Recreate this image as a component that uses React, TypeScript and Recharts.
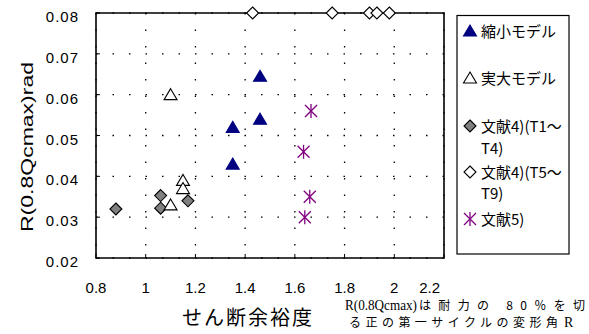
import React from 'react';
import { ScatterChart, Scatter, XAxis, YAxis, CartesianGrid, ReferenceArea } from 'recharts';

// ---- data ----
const xTicks = [0.8, 1, 1.2, 1.4, 1.6, 1.8, 2, 2.2];
const yTicks = [0.02, 0.03, 0.04, 0.05, 0.06, 0.07, 0.08];
const xTickLabels = ['0.8', '1', '1.2', '1.4', '1.6', '1.8', '2', '2.2'];
const yTickLabels = ['0.02', '0.03', '0.04', '0.05', '0.06', '0.07', '0.08'];

const shrinkModel = [
  { x: 1.35, y: 0.052 },
  { x: 1.35, y: 0.043 },
  { x: 1.46, y: 0.0645 },
  { x: 1.46, y: 0.054 },
];
const fullModel = [
  { x: 1.1, y: 0.06 },
  { x: 1.15, y: 0.039 },
  { x: 1.15, y: 0.037 },
  { x: 1.1, y: 0.033 },
];
const lit4a = [
  { x: 0.88, y: 0.032 },
  { x: 1.06, y: 0.0353 },
  { x: 1.06, y: 0.0322 },
  { x: 1.17, y: 0.034 },
];
const lit4b = [
  { x: 1.43, y: 0.08 },
  { x: 1.75, y: 0.08 },
  { x: 1.9, y: 0.08 },
  { x: 1.93, y: 0.08 },
  { x: 1.98, y: 0.08 },
];
const lit5 = [
  { x: 1.665, y: 0.056 },
  { x: 1.635, y: 0.046 },
  { x: 1.66, y: 0.035 },
  { x: 1.64, y: 0.03 },
];

const legendLines = [
  ['縮小モデル'],
  ['実大モデル'],
  ['文献4)(T1〜', 'T4)'],
  ['文献4)(T5〜', 'T9)'],
  ['文献5)'],
];
const yTitle = 'R(0.8Qcmax)rad';
const xTitle = 'せん断余裕度';
const noteSerif1 = 'R(0.8Qcmax)';
const noteCjk1 = 'は耐力の 80％を切';
const noteCjk2 = 'る正の第一サイクルの変形角';
const noteSerif2 = 'R';

// ---- styles ----
const NAVY = '#000080';
const PURPLE = '#800080';
const GRAY = '#808080';
const SANS = '"Liberation Sans", Arial, sans-serif';
const CJK = '"Noto Sans CJK JP", sans-serif';
const SERIF = '"Liberation Serif", "Times New Roman", serif';

const PLOT_LEFT = 96;
const PLOT_BOTTOM = 258;

const triangle = (cx: number, cy: number, fill: string, stroke: string) => (
  <polygon
    points={`${cx},${cy - 6} ${cx + 6.5},${cy + 5} ${cx - 6.5},${cy + 5}`}
    fill={fill}
    stroke={stroke}
    strokeWidth={1.1}
  />
);
const diamond = (cx: number, cy: number, fill: string) => (
  <polygon
    points={`${cx},${cy - 6} ${cx + 6},${cy} ${cx},${cy + 6} ${cx - 6},${cy}`}
    fill={fill}
    stroke="#000"
    strokeWidth={1.1}
  />
);
const asterisk = (cx: number, cy: number) => (
  <g stroke={PURPLE} strokeWidth={1.3}>
    <line x1={cx} y1={cy - 7} x2={cx} y2={cy + 7} />
    <line x1={cx - 6} y1={cy - 6} x2={cx + 6} y2={cy + 6} />
    <line x1={cx - 6} y1={cy + 6} x2={cx + 6} y2={cy - 6} />
  </g>
);

const shapeShrink = (p: any) => triangle(p.cx, p.cy, NAVY, NAVY);
const shapeFull = (p: any) => triangle(p.cx, p.cy, '#fff', '#000');
const shapeLit4a = (p: any) => diamond(p.cx, p.cy, GRAY);
const shapeLit4b = (p: any) => diamond(p.cx, p.cy, '#fff');
const shapeLit5 = (p: any) => asterisk(p.cx, p.cy);

const XTick = (props: any) => {
  const { payload, index } = props;
  const x = payload.coordinate;
  const label = xTickLabels[index] ?? String(payload.value);
  const isLast = index === xTickLabels.length - 1;
  return (
    <g>
      <line x1={x} x2={x} y1={PLOT_BOTTOM} y2={PLOT_BOTTOM - 4} stroke="#000" strokeWidth={1} />
      <text
        x={isLast ? x - 4 : x}
        y={PLOT_BOTTOM + 35}
        textAnchor={isLast ? 'end' : 'middle'}
        fontFamily={SANS}
        fontSize={15}
        fill="#000"
      >
        {label}
      </text>
    </g>
  );
};

const YTick = (props: any) => {
  const { payload, index } = props;
  const y = payload.coordinate;
  const label = yTickLabels[index] ?? String(payload.value);
  return (
    <g>
      <line x1={PLOT_LEFT} x2={PLOT_LEFT + 4} y1={y} y2={y} stroke="#000" strokeWidth={1} />
      <text
        x={PLOT_LEFT - 17}
        y={y + 9}
        textAnchor="end"
        fontFamily={SANS}
        fontSize={15}
        letterSpacing={1}
        fill="#000"
      >
        {label}
      </text>
    </g>
  );
};

const legendRowY = [[37], [84], [132, 154], [178, 199], [225]];
const legendMarkers = [
  (cx: number, cy: number) => triangle(cx, cy, NAVY, NAVY),
  (cx: number, cy: number) => triangle(cx, cy, '#fff', '#000'),
  (cx: number, cy: number) => diamond(cx, cy, GRAY),
  (cx: number, cy: number) => diamond(cx, cy, '#fff'),
  (cx: number, cy: number) => asterisk(cx, cy),
];

export default function App() {
  return (
    <div style={{ position: 'absolute', left: 0, top: 0, width: 589, height: 334, background: '#fff' }}>
      <ScatterChart width={589} height={334} margin={{ top: 13, right: 145, bottom: 46, left: 0 }}>
        <CartesianGrid stroke="#000" strokeWidth={1.3} strokeDasharray="1.5 15" />
        <XAxis
          type="number"
          dataKey="x"
          domain={[0.8, 2.2]}
          ticks={xTicks}
          interval={0}
          tickLine={false}
          axisLine={false}
          tick={XTick}
          height={30}
        />
        <YAxis
          type="number"
          dataKey="y"
          domain={[0.02, 0.08]}
          ticks={yTicks}
          interval={0}
          tickLine={false}
          axisLine={false}
          tick={YTick}
          width={96}
        />
        <ReferenceArea x1={0.8} x2={2.2} y1={0.02} y2={0.08} fill="none" stroke="#000" strokeWidth={1.6} ifOverflow="visible" />
        <Scatter data={lit4a} shape={shapeLit4a} isAnimationActive={false} />
        <Scatter data={fullModel} shape={shapeFull} isAnimationActive={false} />
        <Scatter data={shrinkModel} shape={shapeShrink} isAnimationActive={false} />
        <Scatter data={lit4b} shape={shapeLit4b} isAnimationActive={false} />
        <Scatter data={lit5} shape={shapeLit5} isAnimationActive={false} />
      </ScatterChart>
      <svg
        width={589}
        height={334}
        style={{ position: 'absolute', left: 0, top: 0, pointerEvents: 'none' }}
      >
        {/* Legend */}
        <rect x={457} y={15.5} width={112} height={238.5} fill="none" stroke="#000" strokeWidth={1.2} />
        {legendLines.map((lines, i) => (
          <g key={i}>
            {legendMarkers[i](470, legendRowY[i][0] - 6)}
            {lines.map((t, j) => (
              <text
                key={j}
                x={481}
                y={legendRowY[i][j]}
                fontFamily={CJK}
                fontSize={15}
                fill="#000"
              >
                {t}
              </text>
            ))}
          </g>
        ))}
        {/* Y title */}
        <text
          x={0}
          y={0}
          transform="translate(33,147) rotate(-90)"
          textAnchor="middle"
          fontFamily={SANS}
          fontSize={17}
          textLength={170}
          lengthAdjust="spacingAndGlyphs"
          fill="#000"
        >
          {yTitle}
        </text>
        {/* X title */}
        <text
          x={182}
          y={325}
          fontFamily={CJK}
          fontSize={20}
          textLength={130}
          fill="#000"
        >
          {xTitle}
        </text>
        {/* Note */}
        <text x={345} y={310} fontFamily={SERIF} fontSize={14} textLength={72} lengthAdjust="spacingAndGlyphs" fill="#000">
          {noteSerif1}
        </text>
        <text x={419} y={310} fontFamily={CJK} fontSize={12} textLength={166} fill="#000">
          {noteCjk1}
        </text>
        <text x={349} y={327} fontFamily={CJK} fontSize={12} textLength={209} fill="#000">
          {noteCjk2}
        </text>
        <text x={564} y={327} fontFamily={SERIF} fontSize={14} fill="#000">
          {noteSerif2}
        </text>
      </svg>
    </div>
  );
}
